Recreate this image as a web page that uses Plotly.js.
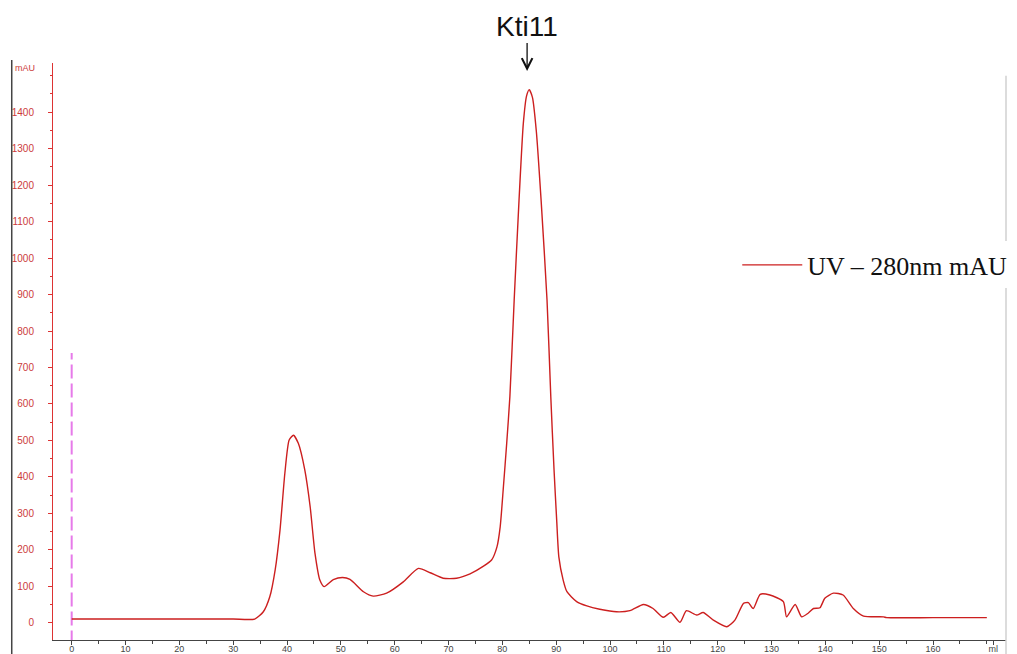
<!DOCTYPE html>
<html>
<head>
<meta charset="utf-8">
<script src="https://cdn.plot.ly/plotly-3.0.1.min.js"></script>
<style>html,body{margin:0;padding:0;background:#fff;}#chart{width:1017px;height:654px;}</style>
</head>
<body>
<div id="chart"></div>
<script>
// Elution volume (ml)
const volume = [0, 10, 20, 30, 34, 35.6, 36.8, 37.8, 38.7, 39.6, 40.4, 41.2, 42.1, 43.3, 44.3, 45.2, 46.1, 46.9, 48.6, 50.3, 51.7, 54.2, 56.0, 58.5, 61.6, 64.4, 66.6, 69.0, 71.5, 74.0, 76.5, 78.0, 79.0, 79.6, 80.2, 80.8, 81.4, 82.2, 83.1, 83.9, 84.5, 85.0, 85.6, 86.3, 87.2, 88.3, 89.0, 89.6, 90.1, 90.5, 91.3, 92.0, 93.8, 95.7, 98.1, 101.2, 103.7, 106.2, 108.0, 109.9, 111.3, 113.0, 114.2, 116.1, 117.3, 119.2, 121.7, 123.2, 124.8, 125.7, 126.6, 127.9, 129.7, 132.2, 132.8, 134.4, 135.6, 136.8, 137.8, 139.0, 139.9, 141.5, 143.3, 145.2, 147.1, 150.8, 151.4, 160, 170];
// UV absorbance at 280 nm (mAU)
const uv280 = [10, 10, 10, 10, 10, 30, 71, 145, 254, 410, 501, 514, 492, 419, 318, 190, 117, 99, 118, 124, 119, 85, 73, 81, 112, 149, 137, 122, 122, 134, 155, 172, 208, 263, 373, 490, 620, 885, 1159, 1370, 1445, 1462, 1440, 1350, 1159, 885, 620, 420, 280, 180, 117, 85, 58, 46, 37, 30, 33, 50, 39, 15, 28, 1, 33, 21, 28, 7, -11, 7, 53, 55, 39, 78, 76, 58, 16, 50, 16, 26, 39, 41, 67, 81, 76, 39, 18, 16, 14, 14, 14];
// Injection marker
const injectionVolume = [0, 0];
const injectionLevel = [-60, 740];
// Axis ticks
const xTickVals = [0, 10, 20, 30, 40, 50, 60, 70, 80, 90, 100, 110, 120, 130, 140, 150, 160, 171.2];
const xTickText = ['0', '10', '20', '30', '40', '50', '60', '70', '80', '90', '100', '110', '120', '130', '140', '150', '160', 'ml'];
const yTickVals = [0, 100, 200, 300, 400, 500, 600, 700, 800, 900, 1000, 1100, 1200, 1300, 1400];
const seriesName = 'UV \u2013 280nm mAU';
const peakLabel = 'Kti11';
const peakVolume = 84.6;
const peakArrowTip = 1513;

const traces = [
  {
    x: injectionVolume, y: injectionLevel, mode: 'lines', showlegend: false, hoverinfo: 'skip',
    line: {color: '#e67ae9', width: 2, dash: '14px,5px'}
  },
  {
    x: volume, y: uv280, mode: 'lines', name: seriesName,
    line: {color: '#cc1f1f', width: 1.4, shape: 'spline', smoothing: 0.6}
  }
];

const layout = {
  width: 1017, height: 654,
  margin: {l: 53, r: 11, t: 63, b: 14, autoexpand: false},
  paper_bgcolor: '#ffffff', plot_bgcolor: '#ffffff',
  font: {family: 'Liberation Sans, Arial, sans-serif'},
  showlegend: true,
  legend: {
    x: 0.718, y: 0.65, xanchor: 'left', yanchor: 'middle', xref: 'paper', yref: 'paper',
    bgcolor: '#ffffff', borderwidth: 0, itemwidth: 60,
    font: {family: 'Liberation Serif, Times New Roman, serif', size: 26, color: '#111'}
  },
  xaxis: {
    range: [-3.47, 173.56], showgrid: false, zeroline: false,
    showline: true, linecolor: '#444', linewidth: 1,
    ticks: 'outside', ticklen: 4, tickcolor: '#444', tickwidth: 1,
    tickmode: 'array', tickvals: xTickVals, ticktext: xTickText,
    tickfont: {family: 'Liberation Sans, Arial, sans-serif', size: 9, color: '#444'},
    ticklabelstandoff: -4,
    minor: {tickmode: 'linear', tick0: 0, dtick: 5, ticks: 'outside', ticklen: 3, tickcolor: '#444'},
    automargin: false, fixedrange: true
  },
  yaxis: {
    range: [-47.4, 1535], showgrid: false, zeroline: false,
    showline: true, linecolor: '#dd3333', linewidth: 1,
    ticks: 'outside', ticklen: 4, tickcolor: '#dd3333', tickwidth: 1,
    tickmode: 'array', tickvals: yTickVals,
    tickfont: {family: 'Liberation Sans, Arial, sans-serif', size: 10, color: '#cc3b3b'},
    ticklabelstandoff: 12,
    minor: {tickmode: 'linear', tick0: 0, dtick: 50, ticks: 'outside', ticklen: 2, tickcolor: '#dd3333'},
    automargin: false, fixedrange: true
  },
  annotations: [
    {
      text: peakLabel, x: peakVolume, y: peakArrowTip, xref: 'x', yref: 'y',
      showarrow: true, ax: 0, ay: -45, arrowhead: 5, arrowsize: 1.6, arrowwidth: 1.3, arrowcolor: '#111',
      font: {family: 'Liberation Sans, Arial, sans-serif', size: 28, color: '#111'}
    },
    {
      text: 'mAU', xref: 'paper', yref: 'paper', x: -0.042, y: 0.9913, xanchor: 'left', yanchor: 'middle',
      showarrow: false, font: {family: 'Liberation Sans, Arial, sans-serif', size: 9, color: '#cc3b3b'}
    }
  ],
  shapes: [
    {type: 'line', xref: 'paper', yref: 'paper', x0: -0.0433, x1: -0.0433, y0: -0.03, y1: 1.005,
     line: {color: '#444', width: 1.5}},
    {type: 'line', xref: 'paper', yref: 'paper', x0: 1.0, x1: 1.0, y0: -0.03, y1: 0.978,
     line: {color: '#d0d0d0', width: 1.5}}
  ]
};

Plotly.newPlot('chart', traces, layout, {displayModeBar: false, staticPlot: true});
</script>
</body>
</html>
